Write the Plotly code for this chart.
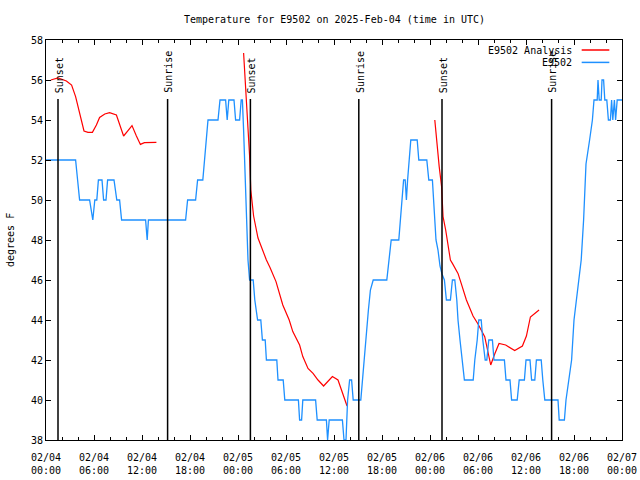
import pandas as pd
import plotly.graph_objects as go

BASE = pd.Timestamp("2025-02-04 00:00")

# Observed E9502 temperature (hours since 02/04 00:00 UTC, degrees F)
obs_hours = [
    0, 3.7, 3.95, 4.2, 5.45, 5.85, 6.1, 6.35, 6.55, 7.0, 7.2, 7.5, 7.7, 8.5, 8.85, 9.2, 9.45, 12.45, 12.65, 12.8,
    17.45, 17.7, 18.7, 18.95, 19.6, 19.8, 20.0, 20.25, 21.5, 21.75, 22.45, 22.65, 22.85, 23.5, 23.7, 24.2, 24.4, 24.55,
    24.7, 24.85, 25.05, 25.25, 25.45, 25.9, 26.1, 26.45, 26.85, 27.05, 27.4, 27.55, 28.85, 29.0, 29.65, 29.85,
    31.55, 31.7, 31.95, 32.1, 33.7, 33.9, 35.05, 35.2, 35.4, 37.05, 37.25, 37.5, 37.7, 37.95, 38.2, 38.4, 39.35,
    39.55, 39.8, 40.05, 40.3, 40.55, 40.9, 42.6, 42.85, 43.15, 44.1, 44.3, 44.5, 44.7, 44.9, 45.05, 45.2, 45.4, 45.6,
    46.4, 46.6, 47.6, 47.85, 48.3, 48.55, 48.75, 49.0, 49.25, 49.5,
    49.8, 50.05, 50.55, 50.8, 51.1, 51.35, 51.5, 51.75, 52.0, 52.3, 53.4, 53.6, 53.9, 54.1, 54.4, 54.6, 54.9, 55.1,
    55.35, 55.8, 56.0, 57.3, 57.5, 58.0, 58.2, 58.9, 59.15, 59.8, 60.0, 60.5, 60.7, 61.1, 61.3, 61.9, 62.1, 62.35,
    64.0, 64.15, 64.8, 65.0, 65.35, 65.7, 66.0, 66.3, 66.6, 66.9, 67.2, 67.5, 67.95, 68.3, 68.5, 68.9, 69.0, 69.15,
    69.4, 69.5, 69.7, 69.85, 70.1, 70.3, 70.55, 70.7, 70.85, 71.05, 71.2, 71.4, 72.0,
]
obs_temps = [
    52, 52, 51, 50, 50, 49, 50, 50, 51, 51, 50, 50, 51, 51, 50, 50, 49, 49, 48, 49,
    49, 50, 50, 51, 51, 52, 53, 54, 54, 55, 55, 54, 55, 55, 54, 54, 55, 55,
    53.5, 51.5, 49.5, 47, 46, 46, 45, 44, 44, 43, 43, 42, 42, 41, 41, 40,
    40, 39, 39, 40, 40, 39, 39, 38, 39, 39, 38, 38, 40, 41, 41, 40, 40,
    41, 42, 43.5, 44.5, 45.5, 46, 46, 47, 48, 48, 49, 50, 51, 51, 50, 51, 52, 53,
    53, 52, 52, 51, 51, 49, 48, 47.5, 46.7, 46.3,
    46, 45, 45, 46, 46, 45, 44, 43, 42, 41, 41, 42, 43, 44, 44, 43, 42, 42,
    43, 43, 42, 42, 41, 41, 40, 40, 41, 41, 42, 42, 41, 41, 42, 42, 41, 40,
    40, 39, 39, 40, 41, 42, 44, 45, 46, 47, 49, 51.8, 53, 54, 55, 55, 56, 55,
    55, 56, 56, 55, 55, 54, 54, 55, 54, 55, 54, 55, 55,
]

# Analysis runs (three separate segments)
ana1_hours = [0.6, 1.5, 2.55, 3.2, 3.7, 4.1, 4.4, 4.75, 5.25, 5.8, 6.3, 6.7, 7.35, 7.95, 8.8, 9.2, 9.7,
              10.25, 10.75, 11.3, 11.8, 12.3, 13.8]
ana1_temps = [56.0, 56.1, 55.95, 55.75, 55.17, 54.5, 54.0, 53.45, 53.38, 53.38, 53.75, 54.13, 54.3, 54.37,
              54.25, 53.75, 53.2, 53.47, 53.72, 53.2, 52.78, 52.87, 52.88]
ana2_hours = [24.7, 24.95, 25.25, 25.45, 25.6, 25.95, 26.5, 26.9, 27.55, 28.0, 28.75, 29.6, 30.4, 30.85,
              31.7, 32.1, 32.75, 33.38, 34.0, 34.7, 35.25, 35.8, 36.5, 37.13, 37.63]
ana2_temps = [57.35, 55.6, 53.8, 52.2, 50.5, 49.2, 48.1, 47.67, 47.0, 46.63, 45.92, 44.75, 44.0, 43.42,
              42.75, 42.17, 41.58, 41.33, 41.0, 40.7, 40.92, 41.17, 41.0, 40.33, 39.7]
ana3_hours = [48.6, 48.9, 49.15, 49.45, 49.63, 49.96, 50.25, 50.55, 50.8, 51.5, 51.9, 52.55, 53.38, 54.0,
              54.84, 55.25, 55.59, 56.09, 56.63, 57.46, 57.96, 58.59, 59.55, 60.05, 60.55, 61.09, 61.63]
ana3_temps = [54.0, 52.67, 51.67, 50.67, 49.17, 48.5, 47.83, 47.0, 46.83, 46.33, 45.83, 45.0, 44.2, 43.8,
              43.17, 42.4, 41.75, 42.3, 42.83, 42.75, 42.63, 42.47, 42.7, 43.2, 44.15, 44.33, 44.5]

sun_labels = ["Sunset", "Sunrise", "Sunset", "Sunrise", "Sunset", "Sunrise"]
sun_hours = [1.5, 15.2, 25.55, 39.1, 49.5, 63.2]

series_names = ["E9502 Analysis", "E9502"]
series_colors = ["#ff0000", "#1e90ff"]


def to_time(hours):
    return [None if h is None else BASE + pd.Timedelta(hours=h) for h in hours]


ana_hours = ana1_hours + [None] + ana2_hours + [None] + ana3_hours
ana_temps = ana1_temps + [None] + ana2_temps + [None] + ana3_temps

FONT = "DejaVu Sans Mono"

fig = go.Figure()
fig.add_trace(go.Scatter(x=to_time(ana_hours), y=ana_temps, mode="lines", name=series_names[0],
                         line=dict(color=series_colors[0], width=1.2), connectgaps=False))
fig.add_trace(go.Scatter(x=to_time(obs_hours), y=obs_temps, mode="lines", name=series_names[1],
                         line=dict(color=series_colors[1], width=1.3)))

for lab, h in zip(sun_labels, sun_hours):
    t = BASE + pd.Timedelta(hours=h)
    fig.add_shape(type="line", xref="x", yref="paper", x0=t, x1=t, y0=0, y1=0.8525,
                  line=dict(color="black", width=1.5), layer="above")
    fig.add_annotation(x=t, xref="x", y=0.862, yref="paper", text=lab, textangle=-90,
                       showarrow=False, xanchor="center", yanchor="bottom", xshift=1,
                       font=dict(family=FONT, size=10, color="black"))

# legend (gnuplot style: text then sample line)
leg_y = [0.975, 0.944]
for name, col, yy in zip(series_names, series_colors, leg_y):
    fig.add_annotation(x=0.917, xref="paper", y=yy, yref="paper", text=name, showarrow=False,
                       xanchor="right", yanchor="middle", font=dict(family=FONT, size=10, color="black"))
    fig.add_shape(type="line", xref="paper", yref="paper", x0=0.930, x1=0.978, y0=yy, y1=yy,
                  line=dict(color=col, width=1.5))

fig.add_annotation(x=0.5, xref="paper", y=1 + 21 / 400, yref="paper",
                   text="Temperature for E9502 on 2025-Feb-04 (time in UTC)",
                   showarrow=False, xanchor="center", yanchor="middle",
                   font=dict(family=FONT, size=10, color="black"))
fig.add_annotation(x=-0.0625, xref="paper", y=0.5, yref="paper", text="degrees F", textangle=-90,
                   showarrow=False, xanchor="center", yanchor="middle",
                   font=dict(family=FONT, size=10, color="black"))

fig.update_layout(
    width=640, height=480,
    margin=dict(l=46, r=18, t=40, b=40, autoexpand=False),
    paper_bgcolor="white", plot_bgcolor="white",
    showlegend=False,
    font=dict(family=FONT, size=10, color="black"),
    xaxis=dict(
        type="date",
        range=[BASE, BASE + pd.Timedelta(hours=72)],
        dtick=6 * 3600 * 1000,
        tickformat="%m/%d<br>%H:%M",
        ticks="inside", ticklen=5, tickcolor="black", tickwidth=1,
        ticklabelstandoff=8,
        minor=dict(dtick=2 * 3600 * 1000, ticks="inside", ticklen=3, tickcolor="black", tickwidth=1),
        showline=True, linecolor="black", linewidth=1, mirror="ticks",
        showgrid=False, zeroline=False, automargin=False,
        tickfont=dict(family=FONT, size=10, color="black"),
    ),
    yaxis=dict(
        range=[38, 58], dtick=2, tick0=38,
        ticks="inside", ticklen=5, tickcolor="black", tickwidth=1,
        showline=True, linecolor="black", linewidth=1, mirror="ticks",
        showgrid=False, zeroline=False, automargin=False,
        tickfont=dict(family=FONT, size=10, color="black"),
    ),
)

fig.write_html(
    "out.html",
    config={"displayModeBar": False},
    post_script="document.body.style.margin='0';document.body.style.overflow='hidden';",
)
